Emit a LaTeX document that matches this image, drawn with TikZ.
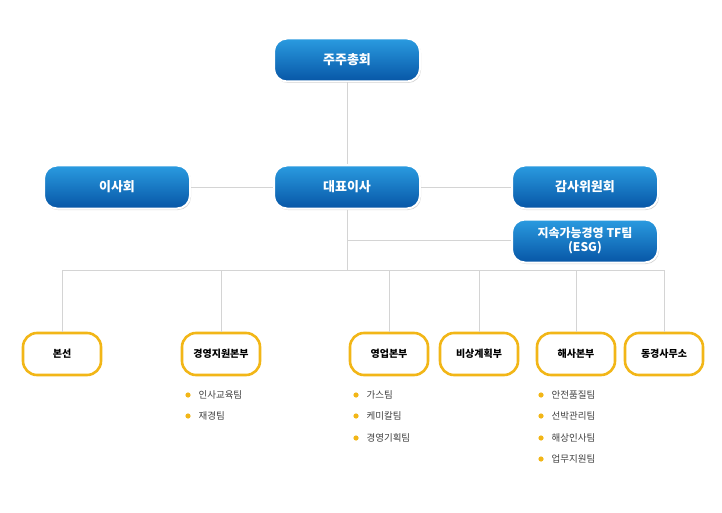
\documentclass[tikz,border=0pt]{standalone}
\usepackage{fontspec}
\setmainfont{Noto Sans CJK KR}
\usetikzlibrary{positioning,shadows}
\definecolor{blueTop}{HTML}{2A9BE0}
\definecolor{blueBot}{HTML}{0756A6}
\definecolor{goldLine}{HTML}{F2B617}
\definecolor{linkGray}{HTML}{D4D4D4}

\begin{document}
\begin{tikzpicture}[
    x=1pt, y=-1pt,
    topbox/.style={rounded corners=13pt, draw=white, line width=2pt,
        top color=blueTop, bottom color=blueBot, text=white,
        minimum width=146pt, minimum height=43pt, font=\bfseries\fontsize{13}{15}\selectfont,
        align=center, drop shadow={opacity=0.35, shadow xshift=1pt, shadow yshift=-1.5pt}},
    unitbox/.style={rounded corners=14pt, draw=goldLine, line width=2.6pt, fill=white,
        minimum width=78pt, minimum height=42pt, font=\bfseries\fontsize{10}{12}\selectfont},
    team/.style={anchor=west, font=\fontsize{9.5}{11}\selectfont, text=black!75},
    link/.style={draw=linkGray, line width=0.8pt}
]
\useasboundingbox (0,0) rectangle (722,513);

% Upper level
\node[topbox] (meeting) at (347,60) {주주총회};
\node[topbox] (ceo) at (347,187) {대표이사};
\node[topbox] (board) at (117,187) {이사회};
\node[topbox] (audit) at (585,187) {감사위원회};
\node[topbox, font=\bfseries\fontsize{12}{14}\selectfont] (esg) at (585,241) {지속가능경영 TF팀\\(ESG)};

% Units
\node[unitbox] (ship) at (62,354) {본선};
\node[unitbox] (mgmt) at (221,354) {경영지원본부};
\node[unitbox] (sales) at (389,354) {영업본부};
\node[unitbox] (emerg) at (479,354) {비상계획부};
\node[unitbox] (marine) at (576,354) {해사본부};
\node[unitbox] (tokyo) at (664,354) {동경사무소};

% Connectors
\coordinate (split) at (347,270);
\coordinate (esgTap) at (347,240);
\path[link] (meeting) -- (ceo);
\path[link] (board) -- (ceo);
\path[link] (ceo) -- (audit);
\path[link] (ceo) -- (split);
\path[link] (esgTap) -- (esg.west |- esgTap);
\path[link] (ship.north |- split) -- (tokyo.north |- split);
\foreach \u in {ship,mgmt,sales,emerg,marine,tokyo}
    \path[link] (\u.north |- split) -- (\u.north);

% Teams
\foreach \t/\y in {인사교육팀/395, 재경팀/416}{
    \fill[goldLine] (188,\y) circle (2.6pt);
    \node[team] at (195,\y) {\t};
}
\foreach \t/\y in {가스팀/395, 케미칼팀/416, 경영기획팀/438}{
    \fill[goldLine] (356,\y) circle (2.6pt);
    \node[team] at (363,\y) {\t};
}
\foreach \t/\y in {안전품질팀/395, 선박관리팀/416, 해상인사팀/438, 업무지원팀/459}{
    \fill[goldLine] (541,\y) circle (2.6pt);
    \node[team] at (548,\y) {\t};
}

\end{tikzpicture}
\end{document}
